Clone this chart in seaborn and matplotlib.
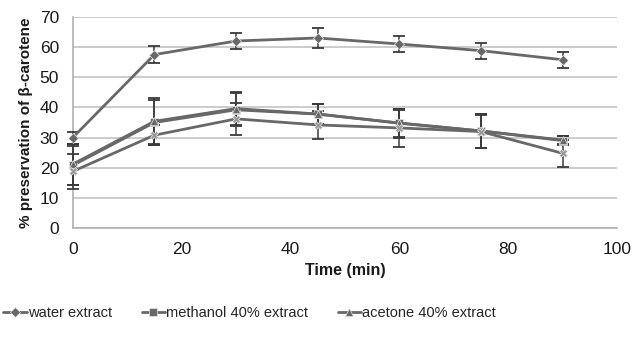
import numpy as np
import pandas as pd
import matplotlib
matplotlib.use('Agg')
import matplotlib.pyplot as plt
import seaborn as sns

# data
time = [0, 15, 30, 45, 60, 75, 90]
water = [30.0, 57.5, 62.0, 63.0, 61.0, 58.8, 55.8]
water_err = [2.0, 2.7, 2.5, 3.2, 2.7, 2.6, 2.6]
methanol = [20.8, 35.0, 39.2, 37.8, 34.8, 32.2, 29.0]
methanol_err = [6.5, 7.5, 5.5, 3.3, 4.5, 5.5, 1.4]
acetone = [21.2, 35.4, 39.6, 37.8, 34.8, 32.2, 29.2]
acetone_err = [6.8, 7.6, 5.4, 3.4, 4.8, 5.6, 1.3]
fourth = [18.8, 30.8, 36.2, 34.2, 33.2, 32.0, 24.8]
fourth_err = [5.8, 3.4, 5.2, 4.6, 6.3, 5.6, 4.5]

series_names = ['water extract', 'methanol 40% extract', 'acetone 40% extract', 'series 4']
markers = {'water extract': 'D', 'methanol 40% extract': 's',
           'acetone 40% extract': '^', 'series 4': 'X'}

df = pd.DataFrame({
    'Time (min)': time * 4,
    'value': water + methanol + acetone + fourth,
    'err': water_err + methanol_err + acetone_err + fourth_err,
    'series': sum([[n] * len(time) for n in series_names], []),
})

sns.set_style('white')
plt.rcParams['font.family'] = ['Liberation Sans', 'DejaVu Sans']

fig, ax = plt.subplots(figsize=(6.44, 3.37), dpi=100)
fig.subplots_adjust(left=0.113, right=0.958, top=0.95, bottom=0.323)

line_col = '#686868'
# error bars first, under the lines but above the axis spine
for name in series_names:
    d = df[df['series'] == name]
    eb = ax.errorbar(d['Time (min)'], d['value'], yerr=d['err'], fmt='none',
                     ecolor='#3a3a3a', elinewidth=1.1, capsize=4, capthick=1.3, zorder=2.6)
    for art in eb.lines[1] + eb.lines[2]:
        art.set_clip_on(False)

sns.lineplot(data=df, x='Time (min)', y='value', hue='series', style='series',
             markers=markers, dashes=False, palette=[line_col] * 4,
             linewidth=2.0, markersize=5.5, markeredgecolor='#e8e8e8',
             markeredgewidth=0.5, ax=ax, legend=False, zorder=3)
for ln in ax.lines:
    ln.set_clip_on(False)
# the X markers read lighter with a grey cross
ax.lines[-1].set_markerfacecolor('#9a9a9a')

ax.set_xlim(0, 100)
ax.set_ylim(0, 70)
ax.set_xticks(range(0, 101, 20))
ax.set_yticks(range(0, 71, 10))
ax.yaxis.grid(True, color='#c4c4c4', linewidth=1.2)
ax.set_axisbelow(True)
for s in ['top', 'right']:
    ax.spines[s].set_visible(False)
ax.spines['left'].set_color('#b0b0b0')
ax.spines['bottom'].set_color('#b0b0b0')
ax.spines['left'].set_linewidth(1.2)
ax.spines['bottom'].set_linewidth(1.2)
ax.tick_params(axis='both', which='both', length=4, color='#b0b0b0',
               labelsize=12.5, labelcolor='#1a1a1a', direction='out', pad=6)

ax.set_xlabel('Time (min)', fontsize=11.5, fontweight='bold', color='#1a1a1a', labelpad=4)
ax.set_ylabel('% preservation of β-carotene', fontsize=11, fontweight='bold',
              color='#1a1a1a', labelpad=5)

handles = []
for name in series_names[:3]:
    h, = ax.plot([], [], color=line_col, marker=markers[name], linewidth=2.0,
                 markersize=5.5, markeredgecolor='#e8e8e8', markeredgewidth=0.5)
    handles.append(h)
fig.legend(handles, series_names[:3], loc='center left', bbox_to_anchor=(-0.015, 0.07),
           ncol=3, frameon=False, fontsize=10.5, handlelength=1.6, handletextpad=0.1,
           columnspacing=2.0)

fig.savefig('out.png', dpi=100)
